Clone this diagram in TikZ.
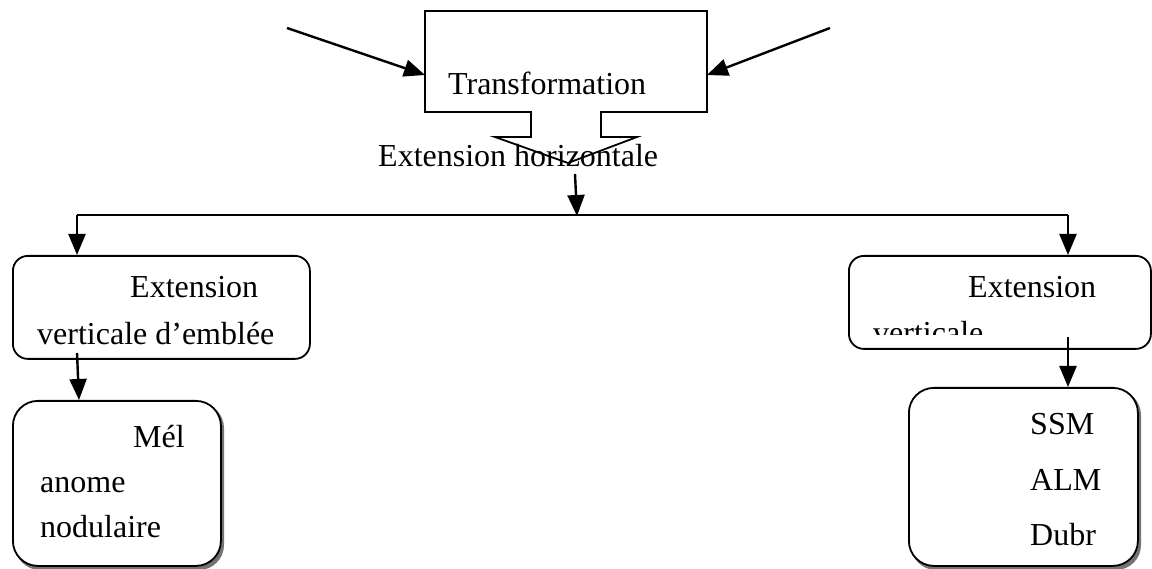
\documentclass[tikz,border=0pt]{standalone}
\usepackage{fontspec}
\setmainfont{Liberation Serif}
\usetikzlibrary{arrows.meta}
\begin{document}
\begin{tikzpicture}[x=1pt,y=-1pt,
  outline/.style={line width=1.8pt,line join=miter},
  arr/.style={line width=2.4pt,-{Triangle[length=21pt,width=17pt]}},
  txt/.style={anchor=base west,inner sep=0pt,font=\fontsize{32}{36}\selectfont},
  rbox/.style={draw,line width=1.8pt,rounded corners=15pt,anchor=north west,inner sep=0pt},
  sbox/.style={draw,line width=1.8pt,rounded corners=25pt,fill=white,anchor=north west,inner sep=0pt},
  shade/.style={fill=black!55,rounded corners=25pt}]
\useasboundingbox (0,0) rectangle (1152,569);
% Transformation callout
\coordinate (c1) at (531,112);
\coordinate (c2) at (425,112);
\coordinate (c3) at (425,11);
\coordinate (c4) at (707,11);
\coordinate (c5) at (707,112);
\coordinate (c6) at (601,112);
\coordinate (c7) at (601,137);
\coordinate (c8) at (637,137);
\coordinate (tip) at (568,163);
\coordinate (c9) at (495,137);
\coordinate (c10) at (531,137);
\draw[outline] (c1) -- (c2) -- (c3) -- (c4) -- (c5) -- (c6) -- (c7) -- (c8) -- (tip) -- (c9) -- (c10) -- cycle;
\coordinate (trW) at (425,75);
\coordinate (trE) at (707,75);
\coordinate (srcL) at (287,28);
\coordinate (srcR) at (830,28);
\draw[arr] (srcL) -- (trW);
\draw[arr] (srcR) -- (trE);
\node[txt] (ttr) at (448,95) {Transformation};
\node[txt] (teh) at (378,167) {Extension horizontale};
% branch
\coordinate (hs) at (575,174);
\coordinate (hm) at (577,216);
\coordinate (hl) at (77,215);
\coordinate (hr) at (1068,215);
\draw[arr] (hs) -- (hm);
\draw[line width=2pt] (hl) -- (hr);
% left column
\node[rbox,minimum width=297pt,minimum height=103pt] (lext) at (12,255) {};
\node[txt] (lt1) at (130,298) {Extension};
\node[txt] (lt2) at (37,345) {verticale d’emblée};
\draw[arr] (hl) -- (hl |- lext.north);
\path[shade] (15,403) rectangle (224,570);
\node[sbox,minimum width=208pt,minimum height=165pt] (mel) at (12,400) {};
\node[txt] (m1) at (133,447) {Mél};
\node[txt] (m2) at (40,492) {anome};
\node[txt] (m3) at (40,537) {nodulaire};
\coordinate (ls) at (77,353);
\coordinate (le) at (79,400);
\draw[arr] (ls) -- (le);
% right column
\node[rbox,minimum width=302pt,minimum height=93pt] (rext) at (848,255) {};
\node[txt] (rt1) at (968,298) {Extension};
\begin{scope}
\clip (850,300) rectangle (1150,335);
\node[txt] (rt2) at (873,344) {verticale};
\end{scope}
\draw[arr] (hr) -- (hr |- rext.north);
\path[shade] (911,390) rectangle (1141,570);
\node[sbox,minimum width=229pt,minimum height=178pt] (ssm) at (908,387) {};
\node[txt] (s1) at (1030,435) {SSM};
\node[txt] (s2) at (1030,490) {ALM};
\node[txt] (s3) at (1030,545) {Dubr};
\coordinate (rs) at (1068,337);
\draw[arr] (rs) -- (rs |- ssm.north);
\end{tikzpicture}
\end{document}
